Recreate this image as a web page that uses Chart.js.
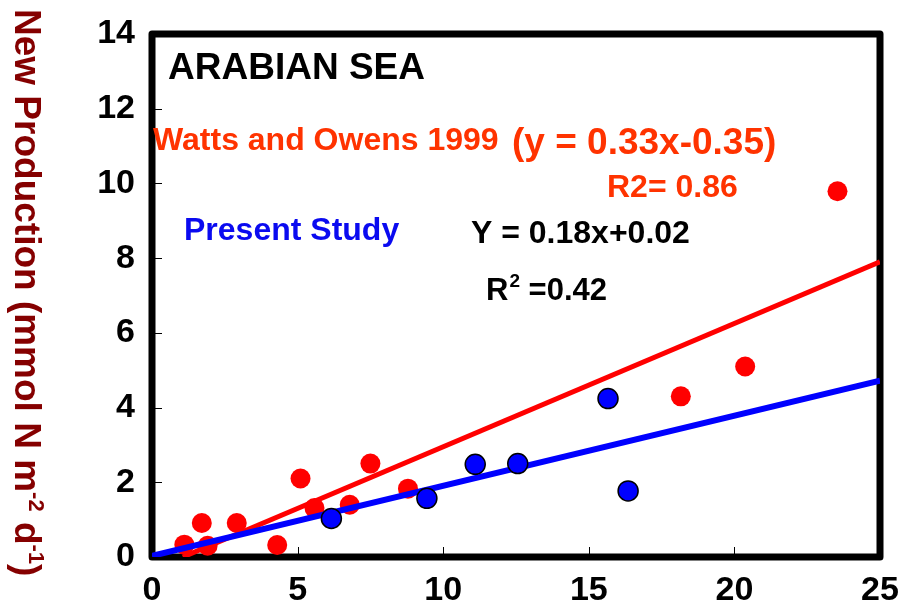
<!DOCTYPE html>
<html><head><meta charset="utf-8">
<script src="https://cdn.jsdelivr.net/npm/chart.js@4.4.0/dist/chart.umd.min.js"></script>
<style>html,body{margin:0;padding:0;background:#fff}#wrap{width:904px;height:616px;position:relative}canvas{display:block}</style>
</head><body><div id="wrap"><canvas id="c" width="904" height="616"></canvas></div>
<script>
// ---- data ----
const xTicks = [0, 5, 10, 15, 20, 25];
const yTicks = [0, 2, 4, 6, 8, 10, 12, 14];
const wattsX = [1.11, 1.71, 1.91, 2.91, 4.30, 5.10, 5.58, 6.79, 7.50, 8.79, 18.16, 20.37, 23.54];
const wattsY = [0.33, 0.91, 0.30, 0.91, 0.32, 2.10, 1.31, 1.40, 2.50, 1.83, 4.30, 5.10, 9.79];
const presentX = [6.16, 9.44, 11.10, 12.56, 15.66, 16.35];
const presentY = [1.03, 1.57, 2.48, 2.50, 4.24, 1.77];
const wattsFitX = [1.06, 25];
const wattsFitY = [0, 7.9];
const presentFitX = [0, 25];
const presentFitY = [0.03, 4.72];

const pts = (xs, ys) => xs.map((x, i) => ({x: x, y: ys[i]}));
const FONT = '"Liberation Sans", Arial, sans-serif';

const framePlugin = {
  id: 'frame',
  beforeDatasetsDraw(chart) {
    const {ctx, chartArea: a, scales} = chart;
    ctx.save();
    ctx.strokeStyle = '#000';
    ctx.lineWidth = 1;
    yTicks.forEach(v => {
      const y = Math.round(scales.y.getPixelForValue(v)) + 0.5;
      ctx.beginPath(); ctx.moveTo(a.left, y); ctx.lineTo(a.left + 10, y); ctx.stroke();
    });
    xTicks.forEach(v => {
      const x = Math.round(scales.x.getPixelForValue(v)) + 0.5;
      ctx.beginPath(); ctx.moveTo(x, a.bottom); ctx.lineTo(x, a.bottom - 10); ctx.stroke();
    });
    ctx.lineWidth = 7;
    ctx.lineJoin = 'round';
    ctx.strokeRect(a.left, a.top, a.right - a.left, a.bottom - a.top);
    ctx.restore();
  },
  afterDraw(chart) {
    const ctx = chart.ctx;
    const txt = (s, x, y, size, color) => {
      ctx.font = 'bold ' + size + 'px ' + FONT;
      ctx.fillStyle = color;
      ctx.textBaseline = 'alphabetic';
      ctx.textAlign = 'left';
      ctx.fillText(s, x, y);
      return x + ctx.measureText(s).width;
    };
    ctx.save();
    const orange = '#FF3300';
    txt('ARABIAN SEA', 168, 79, 37, '#000');
    txt('Watts and Owens 1999', 153, 150, 32, orange);
    txt('(y = 0.33x-0.35)', 512, 154, 37, orange);
    txt('R2= 0.86', 607, 197, 32, orange);
    txt('Present Study', 184, 240, 32, '#0A0AF0');
    txt('Y = 0.18x+0.02', 471, 243, 32, '#000');
    let x = txt('R', 486, 300, 31, '#000');
    x = txt('2', x + 1, 287, 19, '#000');
    txt(' =0.42', x, 300, 31, '#000');

    // y-axis title, rotated (reads top to bottom)
    ctx.translate(15, 9);
    ctx.rotate(Math.PI / 2);
    const col = '#850000';
    let p = 0;
    const seg = (s, size, rise) => {
      ctx.font = 'bold ' + size + 'px ' + FONT;
      ctx.fillStyle = col;
      ctx.textBaseline = 'alphabetic';
      ctx.textAlign = 'left';
      ctx.fillText(s, p, -rise);
      p += ctx.measureText(s).width;
    };
    seg('New Production (mmol N m', 37, 0);
    seg('-2', 22, 14);
    seg(' d', 37, 0);
    seg('-1', 22, 14);
    seg(')', 37, 0);
    ctx.restore();
  }
};

new Chart(document.getElementById('c'), {
  type: 'scatter',
  data: {
    datasets: [
      {label: 'Present Study', data: pts(presentX, presentY), pointRadius: 10, pointHoverRadius: 10,
       backgroundColor: '#0000FF', borderColor: '#000', borderWidth: 1.5},
      {label: 'Present fit', data: pts(presentFitX, presentFitY), showLine: true, pointRadius: 0,
       borderColor: '#0000FF', borderWidth: 6, fill: false},
      {label: 'Watts fit', data: pts(wattsFitX, wattsFitY), showLine: true, pointRadius: 0,
       borderColor: '#FF0000', borderWidth: 5, fill: false},
      {label: 'Watts and Owens 1999', data: pts(wattsX, wattsY), pointRadius: 10, pointHoverRadius: 10,
       backgroundColor: '#FF0000', borderColor: '#FF0000', borderWidth: 0}
    ]
  },
  options: {
    responsive: false,
    animation: false,
    devicePixelRatio: 1,
    layout: {padding: {top: 34, right: 24, left: 0, bottom: 0}},
    plugins: {legend: {display: false}, tooltip: {enabled: false}, title: {display: false}},
    scales: {
      x: {
        type: 'linear', min: 0, max: 25,
        afterBuildTicks: s => { s.ticks = xTicks.map(v => ({value: v})); },
        afterFit: s => { s.height = 59; s.paddingLeft = 0; s.paddingRight = 0; },
        grid: {display: false, drawTicks: false}, border: {display: false},
        ticks: {color: '#000', padding: 13, font: {family: FONT, size: 34, weight: 'bold'}}
      },
      y: {
        type: 'linear', min: 0, max: 14,
        afterBuildTicks: s => { s.ticks = yTicks.map(v => ({value: v})); },
        afterFit: s => { s.width = 152; s.paddingTop = 0; s.paddingBottom = 0; },
        grid: {display: false, drawTicks: false}, border: {display: false},
        ticks: {color: '#000', padding: 17, font: {family: FONT, size: 34, weight: 'bold'}}
      }
    }
  },
  plugins: [framePlugin]
});
</script>
</body></html>
